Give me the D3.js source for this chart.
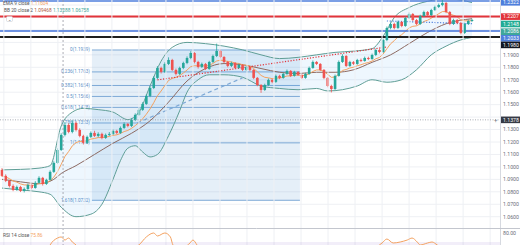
<!DOCTYPE html>
<html>
<head>
<script src="https://d3js.org/d3.v7.min.js"></script>
<style>
  body { margin: 0; background: #fff; }
  svg { display: block; font-family: Roboto, "Liberation Sans", sans-serif; }
</style>
</head>
<body>
<script>
// candles (EUR/USD daily)
const opens = [1.0976,1.0928,1.0888,1.0847,1.0815,1.0839,1.0807,1.0823,1.0855,1.0831,1.0872,1.0912,1.0863,1.0896,1.0960,1.1032,1.1136,1.1257,1.1337,1.1281,
1.1353,1.1297,1.1249,1.1193,1.1241,1.1273,1.1249,1.1265,1.1233,1.1257,1.1265,1.1289,1.1273,1.1313,1.1345,1.1329,1.1377,1.1418,1.1458,1.1506,
1.1570,1.1634,1.1715,1.1795,1.1763,1.1827,1.1859,1.1779,1.1747,1.1795,1.1835,1.1875,1.1915,1.1843,1.1803,1.1827,1.1787,1.1843,1.1891,1.1931,
1.1883,1.1843,1.1811,1.1835,1.1795,1.1819,1.1779,1.1803,1.1779,1.1715,1.1658,1.1618,1.1658,1.1699,1.1683,1.1731,1.1715,1.1747,1.1771,1.1731,
1.1763,1.1739,1.1715,1.1747,1.1795,1.1843,1.1827,1.1779,1.1715,1.1650,1.1626,1.1731,1.1843,1.1891,1.1811,1.1843,1.1827,1.1859,1.1851,1.1875,
1.1867,1.1899,1.1939,1.1923,1.2019,1.2116,1.2148,1.2116,1.2164,1.2132,1.2196,1.2228,1.2180,1.2148,1.2212,1.2244,1.2220,1.2260,1.2285,1.2300,
1.2317,1.2244,1.2148,1.2180,1.2156,1.2076,1.2148,1.2172];
const highs = [1.0990,1.0940,1.0895,1.0860,1.0850,1.0848,1.0835,1.0866,1.0862,1.0885,1.0925,1.0920,1.0905,1.0972,1.1045,1.1150,1.1270,1.1360,1.1350,1.1375,
1.1365,1.1310,1.1258,1.1252,1.1285,1.1290,1.1278,1.1275,1.1268,1.1280,1.1300,1.1298,1.1325,1.1358,1.1352,1.1390,1.1430,1.1472,1.1520,1.1582,
1.1648,1.1728,1.1810,1.1805,1.1840,1.1880,1.1868,1.1790,1.1805,1.1845,1.1888,1.1930,1.1922,1.1852,1.1838,1.1835,1.1852,1.1902,1.1990,1.1942,
1.1890,1.1852,1.1845,1.1842,1.1830,1.1826,1.1812,1.1810,1.1786,1.1722,1.1665,1.1668,1.1710,1.1708,1.1742,1.1740,1.1758,1.1782,1.1778,1.1772,
1.1770,1.1745,1.1756,1.1806,1.1855,1.1850,1.1834,1.1786,1.1722,1.1660,1.1742,1.1855,1.1905,1.1898,1.1852,1.1850,1.1868,1.1870,1.1886,1.1885,
1.1910,1.1950,1.1948,1.2030,1.2128,1.2160,1.2158,1.2175,1.2172,1.2208,1.2240,1.2236,1.2188,1.2222,1.2255,1.2252,1.2270,1.2295,1.2312,1.2345,
1.2325,1.2252,1.2190,1.2188,1.2165,1.2158,1.2182,1.2190];
const lows = [1.0920,1.0878,1.0835,1.0805,1.0808,1.0798,1.0795,1.0815,1.0820,1.0825,1.0865,1.0850,1.0855,1.0890,1.0952,1.1025,1.1128,1.1245,1.1270,1.1270,
1.1285,1.1238,1.1180,1.1185,1.1232,1.1240,1.1238,1.1222,1.1225,1.1248,1.1255,1.1262,1.1265,1.1305,1.1318,1.1320,1.1368,1.1410,1.1450,1.1498,
1.1560,1.1625,1.1705,1.1750,1.1755,1.1818,1.1770,1.1735,1.1738,1.1785,1.1825,1.1865,1.1832,1.1790,1.1795,1.1778,1.1780,1.1835,1.1882,1.1872,
1.1832,1.1800,1.1802,1.1785,1.1788,1.1770,1.1770,1.1768,1.1705,1.1648,1.1595,1.1610,1.1650,1.1672,1.1675,1.1705,1.1708,1.1740,1.1722,1.1725,
1.1730,1.1706,1.1708,1.1740,1.1788,1.1818,1.1770,1.1705,1.1640,1.1598,1.1618,1.1725,1.1835,1.1802,1.1803,1.1818,1.1820,1.1842,1.1845,1.1858,
1.1860,1.1890,1.1912,1.1915,1.2010,1.2105,1.2105,1.2108,1.2122,1.2125,1.2188,1.2170,1.2138,1.2140,1.2205,1.2210,1.2212,1.2252,1.2276,1.2290,
1.2235,1.2138,1.2140,1.2146,1.2065,1.2068,1.2140,1.2165];
const closes = [1.0928,1.0888,1.0847,1.0815,1.0839,1.0807,1.0823,1.0855,1.0831,1.0872,1.0912,1.0863,1.0896,1.0960,1.1032,1.1136,1.1257,1.1337,1.1281,1.1353,
1.1297,1.1249,1.1193,1.1241,1.1273,1.1249,1.1265,1.1233,1.1257,1.1265,1.1289,1.1273,1.1313,1.1345,1.1329,1.1377,1.1418,1.1458,1.1506,1.1570,
1.1634,1.1715,1.1795,1.1763,1.1827,1.1859,1.1779,1.1747,1.1795,1.1835,1.1875,1.1915,1.1843,1.1803,1.1827,1.1787,1.1843,1.1891,1.1931,1.1883,
1.1843,1.1811,1.1835,1.1795,1.1819,1.1779,1.1803,1.1779,1.1715,1.1658,1.1618,1.1658,1.1699,1.1683,1.1731,1.1715,1.1747,1.1771,1.1731,1.1763,
1.1739,1.1715,1.1747,1.1795,1.1843,1.1827,1.1779,1.1715,1.1650,1.1626,1.1731,1.1843,1.1891,1.1811,1.1843,1.1827,1.1859,1.1851,1.1875,1.1867,
1.1899,1.1939,1.1923,1.2019,1.2116,1.2148,1.2116,1.2164,1.2132,1.2196,1.2228,1.2180,1.2148,1.2212,1.2244,1.2220,1.2260,1.2285,1.2300,1.2317,
1.2244,1.2148,1.2180,1.2156,1.2076,1.2148,1.2172,1.2180];

// Bollinger bands (candle index, price)
const bbBasis = [[0,1.0900],[5,1.0880],[10,1.0865],[14,1.0900],[16,1.0947],[20,1.1010],[25,1.1100],[30,1.1190],[35,1.1270],[40,1.1370],
[45,1.1520],[50,1.1690],[55,1.1790],[60,1.1830],[65,1.1820],[70,1.1790],[75,1.1760],[80,1.1750],[85,1.1760],[90,1.1760],[95,1.1780],
[100,1.1840],[105,1.1900],[110,1.1990],[115,1.2080],[120,1.2150],[127,1.2190]];
const bbUpper = [[0,1.0976],[5,1.0980],[10,1.0990],[13,1.1010],[16,1.1329],[19,1.1440],[22,1.1470],[26,1.1460],[30,1.1440],[34,1.1380],[37,1.1440],
[40,1.1650],[43,1.1850],[46,1.1960],[50,1.2000],[55,1.1990],[60,1.1970],[65,1.1940],[70,1.1900],[75,1.1870],[80,1.1880],[85,1.1900],
[90,1.1920],[95,1.1930],[100,1.1950],[103,1.2050],[106,1.2200],[110,1.2280],[115,1.2330],[120,1.2350],[124,1.2340],[127,1.2320]];
const bbLower = [[0,1.0830],[5,1.0815],[10,1.0800],[13,1.0780],[16,1.0676],[20,1.0600],[24,1.0620],[27,1.0700],[30,1.0900],[32,1.1050],[34,1.1150],
[36,1.1170],[38,1.1120],[40,1.1080],[42,1.1100],[45,1.1250],[48,1.1450],[50,1.1600],[53,1.1700],[56,1.1740],[60,1.1740],[65,1.1720],
[70,1.1650],[75,1.1630],[80,1.1620],[85,1.1630],[88,1.1610],[92,1.1620],[96,1.1650],[100,1.1700],[104,1.1680],[108,1.1700],[112,1.1780],
[116,1.1900],[120,1.1970],[124,1.2020],[127,1.2040]];

// RSI 14 (candle index, value)
const rsiPts = [[0,42],[4,38],[8,45],[11,52],[12,58],[13,66.7],[15,74.4],[16,75.6],[17,72.2],[18,74.4],[19,70],[20,66.7],[21,62],[22,55],
[25,52],[30,58],[35,62],[37,66.7],[39,75.6],[41,80],[42,76.7],[44,80],[45.5,75.6],[46.2,66.7],[48,62],[50.8,68.9],[51.6,72.2],[52.7,66.7],
[54,60],[58,64],[60,55],[65,50],[70,42],[75,50],[80,52],[85,55],[90,50],[95,58],[100,62],[102.7,68.9],[104,73.3],[105.7,68.9],[107.6,70],
[109.5,72.2],[110.8,74.4],[112.2,70],[113,66.7],[115,68.9],[116.2,70],[117.6,66.7],[120,60],[124,55],[127,62]];

const priceTicks = [1.06,1.07,1.08,1.09,1.10,1.11,1.12,1.13,1.14,1.15,1.16,1.17,1.18,1.19,1.20,1.21,1.22,1.23];
const timeGrid = [0.5,7.8,15.1,22.4,29.7,37,44.3,51.6,58.9,66.2,73.5,80.8,88.1,95.4,102.7,110,117.3,124.6,131.9];

// fibonacci retracement drawing
const fibLevels = [0, 0.236, 0.382, 0.5, 0.618, 0.786, 1, 1.618];
const fibFrom = 1.1939, fibTo = 1.1193;
const fibStart = 24.3, fibEnd = 80.5;

// horizontal lines and trend lines
const hLines = [{p: 1.2333, c: "#4f7fdc", w: 1.5}, {p: 1.2208, c: "#e2343a", w: 2}, {p: 1.2092, c: "#3f6fd8", w: 1.5}, {p: 1.2044, c: "#1e1e1e", w: 2}];
const redTrend = [[42, 1.1699], [104, 1.1963]];
const blueTrend = [[36.5, 1.1353], [65, 1.1715]];
const blueDots = [[104, 1.2172], [127, 1.2150]];

const axisBoxes = [{p: 1.2322, c: "#4f7fdc"}, {p: 1.2207, c: "#e2343a"}, {p: 1.2148, c: "#22ab94"}, {p: 1.2086, c: "#3fa79a"},
  {p: 1.2033, c: "#4f7fdc"}, {p: 1.1980, c: "#131722"}];
const cross = {i: 16.5, p: 1.1378};

const svg = d3.select("body").append("svg").attr("width", 520).attr("height", 245);
const plotW = 500, mainH = 228;

const x = d3.scaleLinear().domain([0, 127]).range([2, 472]);
const y = d3.scaleLinear().domain([1.06, 1.23]).range([216.7, 5.05]);
const yr = d3.scaleLinear().domain([70, 80]).range([242, 233]);

svg.append("clipPath").attr("id", "main").append("rect").attr("width", plotW).attr("height", mainH);
svg.append("clipPath").attr("id", "rsi").append("rect").attr("y", mainH + 1).attr("width", plotW).attr("height", 245 - mainH);

const g = svg.append("g").attr("clip-path", "url(#main)");

// grid
g.selectAll(".hg").data(priceTicks).join("line")
  .attr("x1", 0).attr("x2", plotW).attr("y1", d => y(d)).attr("y2", d => y(d))
  .attr("stroke", "#eef0f4").attr("stroke-width", 1);
svg.selectAll(".vg").data(timeGrid).join("line")
  .attr("x1", d => x(d)).attr("x2", d => x(d)).attr("y1", 0).attr("y2", 245)
  .attr("stroke", "#eef0f4").attr("stroke-width", 1);

// fib box
const fibP = l => fibFrom - l * (fibFrom - fibTo);
g.append("rect").attr("x", x(fibStart)).attr("width", x(fibEnd) - x(fibStart))
  .attr("y", y(fibP(0))).attr("height", y(fibP(1.618)) - y(fibP(0)))
  .attr("fill", "#5b9bd5").attr("opacity", 0.16);
g.selectAll(".fl").data(fibLevels).join("line")
  .attr("x1", x(fibStart)).attr("x2", x(fibEnd)).attr("y1", d => y(fibP(d))).attr("y2", d => y(fibP(d)))
  .attr("stroke", "#7ea9d6").attr("stroke-width", 1);
g.selectAll(".ft").data(fibLevels).join("text")
  .attr("x", x(fibStart) - 2).attr("y", d => y(fibP(d)) + 1.5)
  .attr("text-anchor", "end").attr("font-size", 4.6).attr("fill", "#5b8fc7")
  .text(d => `${d}(${fibP(d).toFixed(4)})`);

// bollinger fill and lines
const upF = d3.scaleLinear().domain(bbUpper.map(d => d[0])).range(bbUpper.map(d => d[1]));
g.append("path").datum(bbLower)
  .attr("d", d3.area().x(d => x(d[0])).y0(d => y(d[1])).y1(d => y(upF(d[0]))).curve(d3.curveMonotoneX))
  .attr("fill", "#2196f3").attr("opacity", 0.08);
const line = d3.line().x(d => x(d[0])).y(d => y(d[1])).curve(d3.curveMonotoneX);
[bbUpper, bbLower].forEach(s => g.append("path").datum(s).attr("d", line)
  .attr("fill", "none").attr("stroke", "#5f9e96").attr("stroke-width", 1));
g.append("path").datum(bbBasis).attr("d", line).attr("fill", "none").attr("stroke", "#8d6a62").attr("stroke-width", 1);

// EMA 9
const ema = [];
closes.forEach((c, i) => ema.push(i === 0 ? c : c * 0.2 + ema[i - 1] * 0.8));
g.append("path").datum(ema.map((v, i) => [i, v])).attr("d", d3.line().x(d => x(d[0])).y(d => y(d[1])))
  .attr("fill", "none").attr("stroke", "#f4a261").attr("stroke-width", 1);

// horizontal lines
g.selectAll(".hl").data(hLines).join("line")
  .attr("x1", 0).attr("x2", plotW).attr("y1", d => y(d.p)).attr("y2", d => y(d.p))
  .attr("stroke", d => d.c).attr("stroke-width", d => d.w);

// trend lines
g.append("path").datum(redTrend).attr("d", d3.line().x(d => x(d[0])).y(d => y(d[1])))
  .attr("stroke", "#e2343a").attr("stroke-width", 1.2).attr("stroke-dasharray", "1.2,1.6").attr("fill", "none");
g.append("path").datum(blueTrend).attr("d", d3.line().x(d => x(d[0])).y(d => y(d[1])))
  .attr("stroke", "#7ea9d6").attr("stroke-width", 1.2).attr("stroke-dasharray", "4,3").attr("fill", "none");
g.append("path").datum(blueDots).attr("d", d3.line().x(d => x(d[0])).y(d => y(d[1])))
  .attr("stroke", "#4f7fdc").attr("stroke-width", 1.2).attr("stroke-dasharray", "1.2,1.6").attr("fill", "none");

// candles
const idx = d3.range(closes.length);
const up = i => closes[i] >= opens[i];
g.selectAll(".wk").data(idx).join("line")
  .attr("x1", i => x(i)).attr("x2", i => x(i)).attr("y1", i => y(highs[i])).attr("y2", i => y(lows[i]))
  .attr("stroke", i => up(i) ? "#26a69a" : "#ef5350").attr("stroke-width", 0.8);
g.selectAll(".bd").data(idx).join("rect")
  .attr("x", i => x(i) - 1.3).attr("width", 2.6)
  .attr("y", i => y(Math.max(opens[i], closes[i])))
  .attr("height", i => Math.max(0.8, Math.abs(y(opens[i]) - y(closes[i]))))
  .attr("fill", i => up(i) ? "#26a69a" : "#ef5350");

// crosshair
svg.append("line").attr("x1", x(cross.i)).attr("x2", x(cross.i)).attr("y1", 0).attr("y2", 245)
  .attr("stroke", "#9598a1").attr("stroke-dasharray", "2,2").attr("stroke-width", 0.8);
svg.append("line").attr("x1", 0).attr("x2", plotW).attr("y1", y(cross.p)).attr("y2", y(cross.p))
  .attr("stroke", "#9598a1").attr("stroke-dasharray", "1,1.5").attr("stroke-width", 0.8);

// price axis (tick labels hidden where a price box sits on top, as on the chart)
const boxY = axisBoxes.map(b => y(b.p)).concat([y(cross.p)]);
svg.append("line").attr("x1", plotW + 0.5).attr("x2", plotW + 0.5).attr("y1", 0).attr("y2", 245).attr("stroke", "#d6d9e0");
svg.selectAll(".pt").data(priceTicks.filter(t => boxY.every(b => Math.abs(y(t) - b) > 6))).join("text")
  .attr("x", 503).attr("y", d => y(d) + 1.8).attr("font-size", 5.2).attr("fill", "#6a6d78")
  .text(d => d.toFixed(4));
axisBoxes.forEach(b => {
  svg.append("rect").attr("x", plotW + 1).attr("y", y(b.p) - 3.3).attr("width", 19).attr("height", 6.6).attr("fill", b.c);
  svg.append("text").attr("x", 503).attr("y", y(b.p) + 1.8).attr("font-size", 5.2).attr("fill", "#fff").text(b.p.toFixed(4));
});
svg.append("rect").attr("x", plotW + 1).attr("y", y(cross.p) - 3.3).attr("width", 19).attr("height", 6.6).attr("fill", "#363a45");
svg.append("text").attr("x", 503).attr("y", y(cross.p) + 1.8).attr("font-size", 5.2).attr("fill", "#fff").text(cross.p.toFixed(4));
svg.append("text").attr("x", 494).attr("y", y(cross.p) + 2).attr("font-size", 6).attr("fill", "#787b86").text("+");

// legend
const lg = svg.append("text").attr("x", 3).attr("y", 4.5).attr("font-size", 4.8).attr("fill", "#555");
lg.append("tspan").text("EMA 9 close ");
lg.append("tspan").attr("fill", "#f4a261").text("1.11604");
const lg2 = svg.append("text").attr("x", 4).attr("y", 12).attr("font-size", 4.8).attr("fill", "#555");
lg2.append("tspan").text("BB 20 close 2  ");
lg2.append("tspan").attr("fill", "#b0583c").text("1.09468 ");
lg2.append("tspan").attr("fill", "#3fa79a").text("1.13288 ");
lg2.append("tspan").attr("fill", "#3fa79a").text("1.06758");
svg.append("rect").attr("x", 6.5).attr("y", 16.5).attr("width", 6).attr("height", 5).attr("rx", 1)
  .attr("fill", "#fff").attr("stroke", "#c9ccd3").attr("stroke-width", 0.6);
svg.append("text").attr("x", 9.5).attr("y", 20.5).attr("text-anchor", "middle").attr("font-size", 4).attr("fill", "#555").text("⌄");

// RSI pane
svg.append("line").attr("x1", 0).attr("x2", 520).attr("y1", mainH + 0.5).attr("y2", mainH + 0.5).attr("stroke", "#c3c6ce");
const rg = svg.append("g").attr("clip-path", "url(#rsi)");
rg.append("rect").attr("x", 0).attr("width", plotW).attr("y", yr(70)).attr("height", 245 - yr(70)).attr("fill", "#7e57c2").attr("opacity", 0.1);
rg.append("path").datum(rsiPts).attr("d", d3.line().x(d => x(d[0])).y(d => yr(d[1])).curve(d3.curveMonotoneX))
  .attr("fill", "none").attr("stroke", "#f4a261").attr("stroke-width", 1);
const rl = svg.append("text").attr("x", 3).attr("y", 237).attr("font-size", 4.8).attr("fill", "#555");
rl.append("tspan").text("RSI 14 close ");
rl.append("tspan").attr("fill", "#f4a261").text("75.86");
svg.append("text").attr("x", 503).attr("y", yr(80) + 1.8).attr("font-size", 5.2).attr("fill", "#6a6d78").text("80.00");
</script>
</body>
</html>
